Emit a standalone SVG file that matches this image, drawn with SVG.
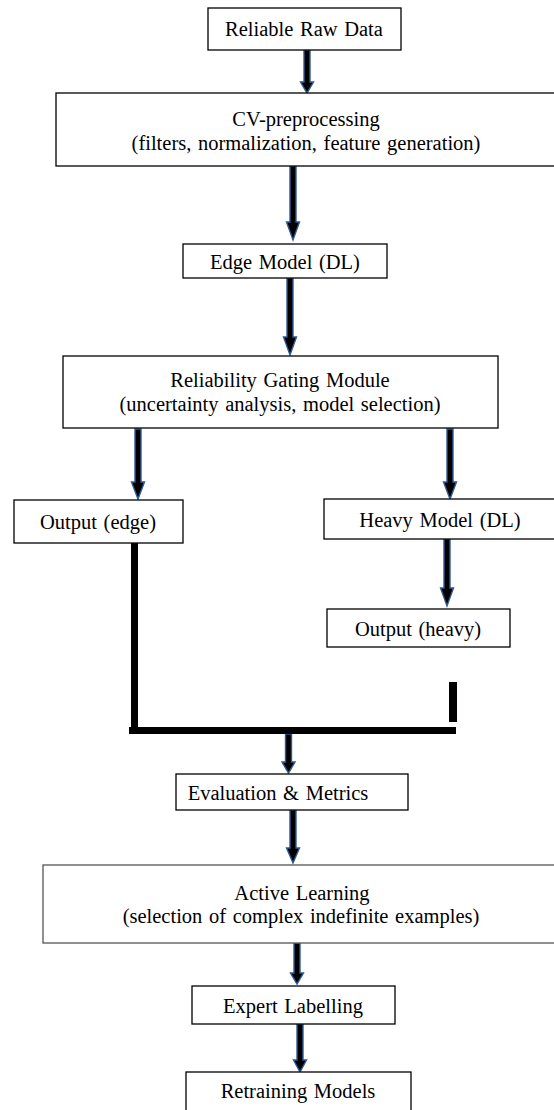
<svg xmlns="http://www.w3.org/2000/svg" width="554" height="1110" viewBox="0 0 554 1110">
<defs>
<style>
.box{fill:#fff;stroke:#000;stroke-width:1.3}
.box2{fill:#fff;stroke:#555;stroke-width:1.3}
.t{font-family:"Liberation Serif","Times New Roman",serif;font-size:20.5px;word-spacing:1.5px;fill:#000;text-anchor:middle}
.arr{fill:#000;stroke:#2f5a96;stroke-width:1.4;stroke-linejoin:miter}
.bar{fill:#000}
</style>
</defs>
<rect width="554" height="1110" fill="#fff"/>
<g id="connectors">
<path class="arr" d="M304,50 H310 V82 H313.5 L307,93 L300.5,82 H304 Z"/>
<path class="arr" d="M290,166 H296 V222 H299.5 L293,240 L286.5,222 H290 Z"/>
<path class="arr" d="M287,278 H293 V337 H296.5 L290,355 L283.5,337 H287 Z"/>
<path class="arr" d="M135,429 H141 V482 H144.5 L138,499 L131.5,482 H135 Z"/>
<path class="arr" d="M447,429 H453 V482 H456.5 L450,499 L443.5,482 H447 Z"/>
<path class="arr" d="M444,539 H450 V588 H453.5 L447,606 L440.5,588 H444 Z"/>
<path class="arr" d="M285.5,734 H291.5 V762 H295 L288.5,773 L282,762 H285.5 Z"/>
<path class="arr" d="M290,810 H296 V848 H299.5 L293,863 L286.5,848 H290 Z"/>
<path class="arr" d="M294,943 H300 V973 H303.5 L297,984 L290.5,973 H294 Z"/>
<path class="arr" d="M297,1024 H303 V1060 H306.5 L300,1072 L293.5,1060 H297 Z"/>
<rect class="bar" x="131" y="543" width="7" height="191"/>
<rect class="bar" x="129" y="727" width="327" height="7"/>
<rect class="bar" x="449" y="682" width="8" height="40"/>
</g>
<g id="raw">
<rect class="box" x="208" y="8" width="193" height="42"/>
<text class="t" x="304" y="36">Reliable Raw Data</text>
</g>
<g id="cv">
<rect class="box" x="56" y="93" width="502" height="73"/>
<text class="t" x="306" y="126">CV-preprocessing</text>
<text class="t" x="306" y="150">(filters, normalization, feature generation)</text>
</g>
<g id="edge">
<rect class="box" x="183" y="244" width="204" height="34"/>
<text class="t" x="285" y="269">Edge Model (DL)</text>
</g>
<g id="gating">
<rect class="box" x="63" y="356" width="435" height="72"/>
<text class="t" x="280" y="387">Reliability Gating Module</text>
<text class="t" x="280" y="411">(uncertainty analysis, model selection)</text>
</g>
<g id="outedge">
<rect class="box" x="14" y="500" width="169" height="43"/>
<text class="t" x="98" y="529">Output (edge)</text>
</g>
<g id="heavy">
<rect class="box" x="324" y="499" width="234" height="40"/>
<text class="t" x="440" y="527">Heavy Model (DL)</text>
</g>
<g id="outheavy">
<rect class="box" x="327" y="609" width="183" height="38"/>
<text class="t" x="418" y="636">Output (heavy)</text>
</g>
<g id="eval">
<rect class="box" x="176" y="774" width="232" height="36"/>
<text class="t" x="278" y="800">Evaluation &amp; Metrics</text>
</g>
<g id="active">
<rect class="box2" x="43" y="865" width="516" height="78"/>
<text class="t" x="302" y="900">Active Learning</text>
<text class="t" x="301" y="923">(selection of complex indefinite examples)</text>
</g>
<g id="expert">
<rect class="box" x="192" y="986" width="203" height="38"/>
<text class="t" x="293" y="1013">Expert Labelling</text>
</g>
<g id="retrain">
<rect class="box" x="186" y="1072" width="225" height="42"/>
<text class="t" x="298" y="1098">Retraining Models</text>
</g>
</svg>
